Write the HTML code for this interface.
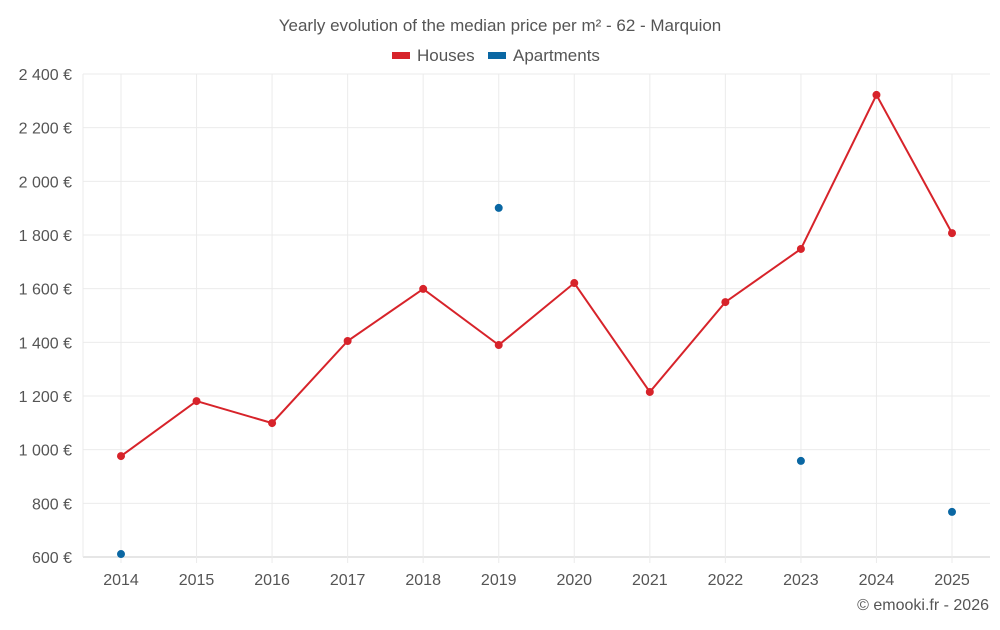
<!DOCTYPE html>
<html><head><meta charset="utf-8"><style>
body{margin:0;background:#fff;font-family:"Liberation Sans",sans-serif;}
svg text{font-family:"Liberation Sans",sans-serif;fill:#555;}
</style></head><body>
<svg id="chart" width="1000" height="625" xmlns="http://www.w3.org/2000/svg">
<text x="500" y="31" text-anchor="middle" font-size="17">Yearly evolution of the median price per m² - 62 - Marquion</text>
<g><rect x="392" y="52" width="18" height="7" fill="#d7232a"/><text x="417" y="61" font-size="17">Houses</text></g>
<g><rect x="488" y="52" width="18" height="7" fill="#0a67a3"/><text x="513" y="61" font-size="17">Apartments</text></g>
<g id="grid"></g><g id="axes"></g><g id="series"></g>
<text x="989" y="610" text-anchor="end" font-size="16">© emooki.fr - 2026</text>
</svg>
<script>
const years=[2014,2015,2016,2017,2018,2019,2020,2021,2022,2023,2024,2025];
const houses=[976,1181,1099,1405,1599,1390,1621,1215,1550,1748,2322,1807];
const apartments=[611,null,null,null,null,1901,null,null,null,958,null,768];
const yTicks=[600,800,1000,1200,1400,1600,1800,2000,2200,2400];
const yLabels=["600 €","800 €","1 000 €","1 200 €","1 400 €","1 600 €","1 800 €","2 000 €","2 200 €","2 400 €"];
const NS="http://www.w3.org/2000/svg";
const L=83,R=990,T=74,B=557;
const x=i=>121+i*(952-121)/(years.length-1);
const y=v=>B-(v-600)/(2400-600)*(B-T);
function mk(tag,attrs,parent){const e=document.createElementNS(NS,tag);for(const k in attrs)e.setAttribute(k,attrs[k]);parent.appendChild(e);return e;}
const grid=document.getElementById('grid'),axes=document.getElementById('axes'),ser=document.getElementById('series');
yTicks.forEach((t,i)=>{
 const g=mk('line',{x1:L,x2:R,y1:y(t),y2:y(t),stroke:i==0?'#ccc':'#ebebeb','stroke-width':1},grid);
 
 
 const tx=mk('text',{x:72,y:y(t)+6,'text-anchor':'end','font-size':16},axes);tx.textContent=yLabels[i];
 
 
});
mk('line',{x1:L,x2:L,y1:T,y2:B,stroke:'#ebebeb'},grid);
years.forEach((yr,i)=>{
 const g=mk('line',{x1:x(i),x2:x(i),y1:T,y2:B+6,stroke:'#ebebeb'},grid);
 
 
 const tx=mk('text',{x:x(i),y:585,'text-anchor':'middle','font-size':16},axes);tx.textContent=yr;
 
 
});
const p=mk('polyline',{points:houses.map((v,i)=>x(i)+','+y(v)).join(' '),fill:'none',stroke:'#d7232a','stroke-width':2},ser);


houses.forEach((v,i)=>{const c=mk('circle',{cx:x(i),cy:y(v),r:4,fill:'#d7232a'},ser);
 
 });
apartments.forEach((v,i)=>{if(v==null)return;const c=mk('circle',{cx:x(i),cy:y(v),r:4,fill:'#0a67a3'},ser);
 
 });
</script>
</body></html>
